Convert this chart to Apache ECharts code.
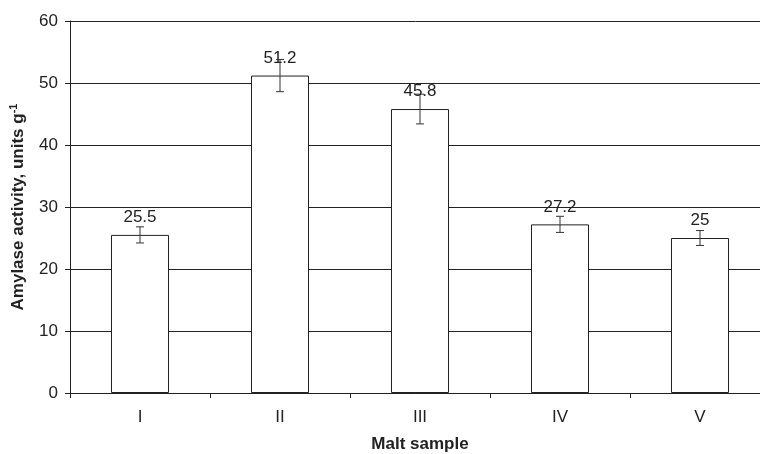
<!DOCTYPE html>
<html>
<head>
<meta charset="utf-8">
<script src="https://cdn.jsdelivr.net/npm/echarts@6/dist/echarts.min.js"></script>
<style>
  html, body { margin: 0; padding: 0; background: #fff; }
  #chart { width: 760px; height: 454px; }
</style>
</head>
<body>
<div id="chart"></div>
<script>
const categories = ['I', 'II', 'III', 'IV', 'V']
const activity = [25.5, 51.2, 45.8, 27.2, 25]
const errors = [1.3, 2.6, 2.4, 1.3, 1.2]
const yTicks = [0, 10, 20, 30, 40, 50, 60]

const font = 'Liberation Sans, Arial, sans-serif'
const ink = '#222'

const chart = echarts.init(document.getElementById('chart'))

// Error bars drawn through the axes (vertical stem plus two caps)
function renderErrorBar(params, api) {
  const idx = api.value(0)
  const val = api.value(1)
  const err = api.value(2)
  const hi = api.coord([idx, val + err])
  const lo = api.coord([idx, val - err])
  const cap = 4
  const style = { stroke: '#333', lineWidth: 1 }
  return {
    type: 'group',
    children: [
      { type: 'line', shape: { x1: hi[0], y1: hi[1], x2: lo[0], y2: lo[1] }, style },
      { type: 'line', shape: { x1: hi[0] - cap, y1: hi[1], x2: hi[0] + cap, y2: hi[1] }, style },
      { type: 'line', shape: { x1: lo[0] - cap, y1: lo[1], x2: lo[0] + cap, y2: lo[1] }, style },
    ],
  }
}

chart.setOption({
  animation: false,
  backgroundColor: '#fff',
  textStyle: { fontFamily: font, color: ink },
  // plot runs past the right edge of the window, as in the original
  grid: { left: 70, top: 21, width: 700, height: 372, containLabel: false, outerBoundsMode: 'none' },
  xAxis: {
    type: 'category',
    data: categories,
    name: 'Malt sample',
    nameLocation: 'middle',
    nameGap: 43,
    nameTextStyle: { fontFamily: font, fontSize: 17, fontWeight: 'bold', color: ink },
    axisLine: { lineStyle: { color: ink, width: 1 } },
    axisTick: { show: true, length: 5, inside: false, lineStyle: { color: ink } },
    axisLabel: { fontFamily: font, fontSize: 17, color: ink, margin: 16 },
  },
  yAxis: {
    type: 'value',
    min: yTicks[0],
    max: yTicks[yTicks.length - 1],
    interval: 10,
    name: 'Amylase activity, units g{sup|-1}',
    nameLocation: 'middle',
    nameGap: 42,
    nameRotate: 90,
    nameTextStyle: {
      fontFamily: font, fontSize: 17, fontWeight: 'bold', color: ink,
      rich: {
        sup: { fontFamily: font, fontSize: 11, fontWeight: 'bold', color: ink, verticalAlign: 'top', padding: [0, 0, 9, 0] },
      },
    },
    axisLine: { show: true, lineStyle: { color: ink, width: 1 } },
    axisTick: { show: true, length: 5, lineStyle: { color: ink } },
    axisLabel: { fontFamily: font, fontSize: 17, color: ink, margin: 12 },
    splitLine: { show: true, lineStyle: { color: ink, width: 1 } },
  },
  series: [
    {
      type: 'bar',
      data: activity,
      barWidth: 58,
      itemStyle: { color: '#fff', borderColor: ink, borderWidth: 1 },
      label: {
        show: true,
        position: 'top',
        distance: 9,
        fontFamily: font,
        fontSize: 17,
        color: ink,
      },
      z: 2,
    },
    {
      type: 'custom',
      renderItem: renderErrorBar,
      data: activity.map((v, i) => [i, v, errors[i]]),
      encode: { x: 0, y: 1 },
      z: 3,
    },
  ],
})
</script>
</body>
</html>
